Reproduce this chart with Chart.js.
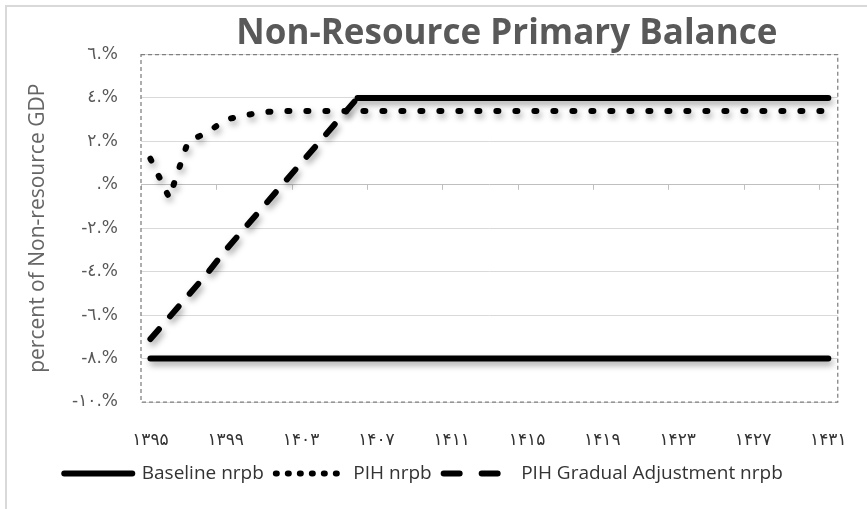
<!DOCTYPE html>
<html>
<head>
<meta charset="utf-8">
<script src="https://cdn.jsdelivr.net/npm/chart.js@4.4.0/dist/chart.umd.min.js"></script>
<style>
  html, body { margin: 0; padding: 0; background: #fff; }
  #wrap { width: 867px; height: 509px; position: relative; }
</style>
</head>
<body>
<div id="wrap"><canvas id="nrpbChart" width="867" height="509"></canvas></div>
<script>
// سال‌ها روی محور افقی
const years = [1395, 1396, 1397, 1398, 1399, 1400, 1401, 1402, 1403, 1404,
    1405, 1406, 1407, 1408, 1409, 1410, 1411, 1412, 1413, 1414,
    1415, 1416, 1417, 1418, 1419, 1420, 1421, 1422, 1423, 1424,
    1425, 1426, 1427, 1428, 1429, 1430, 1431];

// percent of non-resource GDP
const baseline = [-8, -8, -8, -8, -8, -8, -8, -8, -8, -8,
    -8, -8, -8, -8, -8, -8, -8, -8, -8, -8,
    -8, -8, -8, -8, -8, -8, -8, -8, -8, -8,
    -8, -8, -8, -8, -8, -8, -8];

const pih = [1.2, -0.6, 2.0, 2.4, 3.0, 3.2, 3.35, 3.4, 3.4, 3.4,
    3.4, 3.4, 3.4, 3.4, 3.4, 3.4, 3.4, 3.4, 3.4, 3.4,
    3.4, 3.4, 3.4, 3.4, 3.4, 3.4, 3.4, 3.4, 3.4, 3.4,
    3.4, 3.4, 3.4, 3.4, 3.4, 3.4, 3.4];

const pihGradual = [-7.1, -6.1, -5.1, -4.1, -3.0, -2.0, -1.0, 0.0, 1.0, 2.0,
    3.0, 4.0, 4.0, 4.0, 4.0, 4.0, 4.0, 4.0, 4.0, 4.0,
    4.0, 4.0, 4.0, 4.0, 4.0, 4.0, 4.0, 4.0, 4.0, 4.0,
    4.0, 4.0, 4.0, 4.0, 4.0, 4.0, 4.0];

const seriesNames = ['Baseline nrpb', 'PIH nrpb', 'PIH Gradual Adjustment nrpb'];
const yMin = -10, yMax = 6, yStep = 2;
const labelEvery = 4;

const faDigits = '۰۱۲۳۴۵۶۷۸۹';
const arDigits = '٠١٢٣٤٥٦٧٨٩';

function toDigits(n, set) {
    return String(n).replace(/\d/g, d => set[d]);
}

// y labels look like "٤.%" , zero is just ".%"
function yLabel(v) {
    if (v === 0) return '.%';
    return (v < 0 ? '-' : '') + toDigits(Math.abs(v), arDigits) + '.%';
}

const gradualSolidFrom = 11; // after 1406 the line is drawn solid
const legendDash = [[], [1, 11], [16, 22]];

const chartDecor = {
    id: 'chartDecor',
    beforeDraw(chart) {
        const ctx = chart.ctx;
        ctx.save();
        ctx.strokeStyle = '#d9d9d9';
        ctx.lineWidth = 2;
        ctx.beginPath();
        ctx.moveTo(6, chart.height);
        ctx.lineTo(6, 6);
        ctx.lineTo(chart.width, 6);
        ctx.stroke();
        ctx.restore();
    },
    beforeDatasetsDraw(chart) {
        const ctx = chart.ctx;
        const x = chart.scales.x, y = chart.scales.y;
        const a = chart.chartArea;
        const step = x.getPixelForValue(1) - x.getPixelForValue(0);
        const y0 = y.getPixelForValue(0);

        ctx.save();
        // tick marks on the zero line
        ctx.strokeStyle = '#bfbfbf';
        ctx.lineWidth = 1;
        ctx.beginPath();
        for (let i = 0; i < years.length; i += labelEvery) {
            const px = Math.round(x.getPixelForValue(i) - step / 2) + 0.5;
            ctx.moveTo(px, y0);
            ctx.lineTo(px, y0 + 5);
        }
        ctx.stroke();

        // dashed plot area border
        ctx.strokeStyle = '#7f7f7f';
        ctx.lineWidth = 1.25;
        ctx.setLineDash([4, 3]);
        ctx.strokeRect(a.left, a.top, a.right - a.left, a.bottom - a.top);
        ctx.restore();

        // soft shadow under the series
        ctx.save();
        ctx.shadowColor = 'rgba(0,0,0,0.35)';
        ctx.shadowBlur = 6;
        ctx.shadowOffsetX = 2;
        ctx.shadowOffsetY = 4;
    },
    afterDatasetsDraw(chart) {
        chart.ctx.restore();
    }
};

const ctx = document.getElementById('nrpbChart').getContext('2d');
new Chart(ctx, {
    type: 'line',
    data: {
        labels: years,
        datasets: [{
            label: seriesNames[0],
            data: baseline,
            borderColor: '#000000',
            backgroundColor: '#000000',
            borderWidth: 6,
            borderCapStyle: 'round',
            pointRadius: 0,
            tension: 0
        }, {
            label: seriesNames[1],
            data: pih,
            borderColor: '#000000',
            backgroundColor: '#000000',
            borderWidth: 6,
            borderCapStyle: 'round',
            borderDash: [2, 17],
            pointRadius: 0,
            tension: 0
        }, {
            label: seriesNames[2],
            data: pihGradual,
            borderColor: '#000000',
            backgroundColor: '#000000',
            borderWidth: 6,
            borderCapStyle: 'round',
            borderDash: [13, 17],
            pointRadius: 0,
            tension: 0,
            segment: {
                borderDash: c => c.p0DataIndex >= gradualSolidFrom ? [] : undefined
            }
        }]
    },
    options: {
        responsive: false,
        animation: false,
        devicePixelRatio: 1,
        layout: { padding: { left: 0, right: 20, top: 0, bottom: 16 } },
        scales: {
            x: {
                type: 'category',
                offset: true,
                grid: { display: false },
                border: { display: false },
                ticks: {
                    autoSkip: false,
                    maxRotation: 0,
                    padding: 20,
                    color: '#333333',
                    font: { family: 'DejaVu Sans', size: 17 },
                    callback: function (val, idx) {
                        return idx % labelEvery === 0 ? toDigits(years[idx], faDigits) : '';
                    }
                },
                afterFit: function (scale) { scale.height = 50; }
            },
            y: {
                min: yMin,
                max: yMax,
                border: { display: false },
                grid: {
                    drawTicks: false,
                    color: c => c.tick && c.tick.value === 0 ? '#bfbfbf' : '#d9d9d9',
                    lineWidth: 1
                },
                ticks: {
                    stepSize: yStep,
                    padding: 23,
                    color: '#595959',
                    font: { family: 'DejaVu Sans', size: 17 },
                    callback: function (v) { return yLabel(v); }
                },
                title: {
                    display: true,
                    text: 'percent of Non-resource GDP',
                    color: '#666666',
                    font: { family: 'Open Sans', size: 21 },
                    padding: { top: 25, bottom: 0 }
                },
                afterFit: function (scale) { scale.width = 141; }
            }
        },
        plugins: {
            title: {
                display: true,
                // leading spaces nudge the title a bit to the right like the original
                text: '\u2002\u2002Non-Resource Primary Balance',
                color: '#595959',
                fullSize: false,
                font: { family: 'Open Sans', size: 35, weight: 'bold', lineHeight: 1 },
                padding: { top: 17, bottom: 2.5 }
            },
            legend: {
                position: 'bottom',
                labels: {
                    color: '#333333',
                    font: { family: 'Open Sans', size: 19 },
                    usePointStyle: true,
                    pointStyle: 'line',
                    pointStyleWidth: 68,
                    padding: 12,
                    generateLabels: function (chart) {
                        const items = Chart.defaults.plugins.legend.labels.generateLabels(chart);
                        items.forEach(function (it, i) {
                            it.lineDash = legendDash[i];
                            it.lineCap = 'round';
                        });
                        return items;
                    }
                }
            },
            tooltip: { enabled: false }
        }
    },
    plugins: [chartDecor]
});
</script>
</body>
</html>
